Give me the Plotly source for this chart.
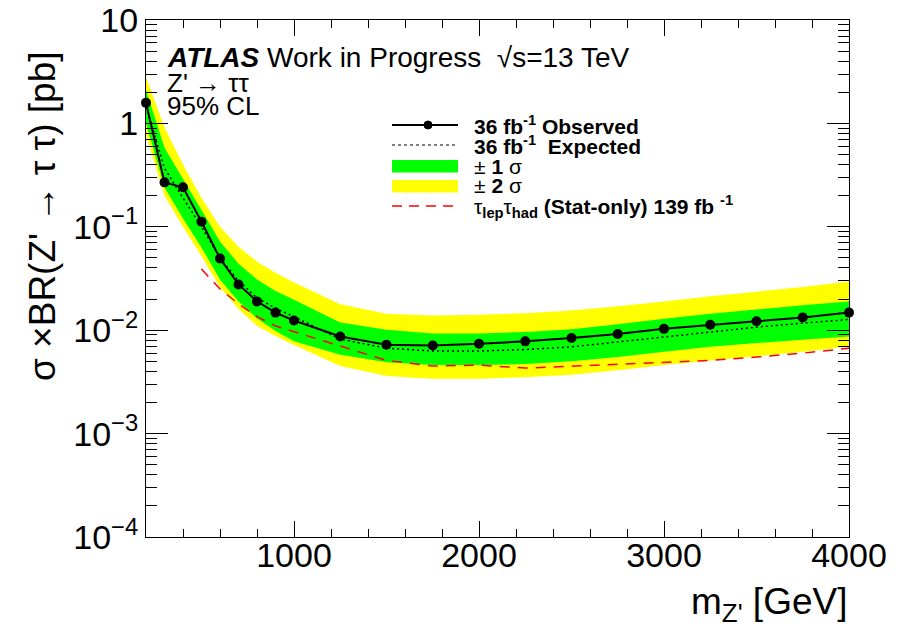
import plotly.graph_objects as go

# ---------------- data ----------------
mass = [200, 300, 400, 500, 600, 700, 800, 900, 1000, 1250, 1500, 1750,
        2000, 2250, 2500, 2750, 3000, 3250, 3500, 3750, 4000]
observed = [1.58, 0.269, 0.241, 0.112, 0.0494, 0.0277, 0.0190, 0.0148, 0.0124,
            0.0087, 0.00725, 0.0071, 0.0074, 0.0078, 0.0084, 0.0092, 0.0103,
            0.0113, 0.0122, 0.0133, 0.0148]
expected = [1.45, 0.37, 0.19, 0.100, 0.050, 0.030, 0.0205, 0.0163, 0.0135,
            0.0082, 0.0067, 0.0063, 0.0063, 0.0065, 0.0069, 0.0077, 0.0087,
            0.0097, 0.0107, 0.0117, 0.0127]
plus2 = [2.8, 0.92, 0.40, 0.19, 0.100, 0.064, 0.046, 0.036, 0.029,
         0.0178, 0.0144, 0.0139, 0.0141, 0.0146, 0.0155, 0.0170, 0.0190,
         0.0213, 0.0236, 0.0262, 0.0296]
plus1 = [2.1, 0.58, 0.29, 0.145, 0.072, 0.044, 0.031, 0.024, 0.0197,
         0.0119, 0.0101, 0.0093, 0.0093, 0.0096, 0.0102, 0.0114, 0.0129,
         0.0144, 0.0159, 0.0174, 0.0189]
minus1 = [1.0, 0.24, 0.12, 0.063, 0.031, 0.019, 0.0130, 0.0098, 0.0078,
          0.0058, 0.0049, 0.0046, 0.0046, 0.0047, 0.0050, 0.0055, 0.0062,
          0.0069, 0.0075, 0.0081, 0.0087]
minus2 = [0.78, 0.20, 0.10, 0.052, 0.026, 0.016, 0.0110, 0.0088, 0.0072,
          0.0045, 0.0036, 0.0034, 0.0034, 0.0035, 0.0037, 0.0041, 0.0046,
          0.0051, 0.0056, 0.0062, 0.0069]
lephad_mass = [500, 600, 700, 800, 900, 1000, 1250, 1500, 1750, 2000, 2250,
               2500, 2750, 3000, 3250, 3500, 3750, 4000]
lephad = [0.039, 0.025, 0.018, 0.0135, 0.011, 0.0097, 0.0070, 0.0051, 0.0045,
          0.0046, 0.0043, 0.0045, 0.0047, 0.0049, 0.0051, 0.0055, 0.0060, 0.0067]

x_ticks = [1000, 2000, 3000, 4000]
x_ticktext = ["1000", "2000", "3000", "4000"]
y_ticks = [1e-4, 1e-3, 1e-2, 1e-1, 1, 10]
y_ticktext = ["10<sup>\u22124</sup>", "10<sup>\u22123</sup>", "10<sup>\u22122</sup>",
              "10<sup>\u22121</sup>", "1", "10"]

FONT = "Liberation Sans, Arial, Helvetica, sans-serif"

fig = go.Figure()

# +-2 sigma band
fig.add_trace(go.Scatter(x=mass + mass[::-1], y=plus2 + minus2[::-1],
                         fill="toself", fillcolor="#FFFF00", mode="none",
                         hoverinfo="skip", showlegend=False))
# +-1 sigma band
fig.add_trace(go.Scatter(x=mass + mass[::-1], y=plus1 + minus1[::-1],
                         fill="toself", fillcolor="#00FF00", mode="none",
                         hoverinfo="skip", showlegend=False))
# lep-had stat only
fig.add_trace(go.Scatter(x=lephad_mass, y=lephad, mode="lines",
                         line=dict(color="#FF0000", width=1.5, dash="10px,8px"),
                         showlegend=False))
# expected
fig.add_trace(go.Scatter(x=mass, y=expected, mode="lines",
                         line=dict(color="black", width=1.5, dash="2px,3px"),
                         showlegend=False))
# observed
fig.add_trace(go.Scatter(x=mass, y=observed, mode="lines+markers",
                         line=dict(color="black", width=2),
                         marker=dict(color="black", size=10),
                         cliponaxis=False, showlegend=False))

# ---------------- layout ----------------
L, R, T, B = 146, 61, 20, 90
W, H = 910, 627
pw, ph = W - L - R, H - T - B


def px(xp):
    return (xp - L) / pw


def py(yp):
    return (H - B - yp) / ph


minor_y = [k * 10.0 ** e for e in range(-4, 1) for k in range(2, 10)]

fig.update_layout(
    width=W, height=H,
    margin=dict(l=L, r=R, t=T, b=B, autoexpand=False),
    paper_bgcolor="white", plot_bgcolor="white",
    font=dict(family=FONT, color="black"),
    xaxis=dict(range=[200, 4000], showgrid=False, zeroline=False,
               automargin=False,
               showline=True, linecolor="black", linewidth=1, mirror="ticks",
               ticks="inside", ticklen=16, tickcolor="black", tickwidth=1,
               tickmode="array", tickvals=x_ticks, ticktext=x_ticktext,
               tickfont=dict(size=34, family=FONT), ticklabelstandoff=-12,
               minor=dict(ticks="inside", ticklen=8, tickcolor="black",
                          dtick=200, tick0=0, showgrid=False)),
    yaxis=dict(type="log", range=[-4, 1], showgrid=False, zeroline=False,
               automargin=False,
               showline=True, linecolor="black", linewidth=1, mirror="ticks",
               ticks="inside", ticklen=22, tickcolor="black", tickwidth=1,
               tickmode="array", tickvals=y_ticks, ticktext=y_ticktext,
               tickfont=dict(size=34, family=FONT),
               minor=dict(ticks="inside", ticklen=11, tickcolor="black",
                          tickmode="array", tickvals=minor_y, showgrid=False)),
)

ann = []
# axis titles
ann.append(dict(x=px(849), y=py(604), xref="paper", yref="paper",
                xanchor="right", yanchor="middle", showarrow=False,
                text="m<sub>Z'</sub> [GeV]", font=dict(size=37, family=FONT)))
ann.append(dict(x=px(42), y=py(216), xref="paper", yref="paper",
                xanchor="center", yanchor="middle", showarrow=False,
                textangle=-90,
                text="\u03c3 \u00d7BR(Z' \u2192 \u03c4 \u03c4) [pb]",
                font=dict(size=37, family=FONT)))
# ATLAS label
ann.append(dict(x=px(165), y=py(57), xref="paper", yref="paper",
                xanchor="left", yanchor="middle", showarrow=False,
                text="<b><i>ATLAS</i></b> Work in Progress  \u221as=13 TeV",
                font=dict(size=28, family=FONT)))
ann.append(dict(x=px(165), y=py(83), xref="paper", yref="paper",
                xanchor="left", yanchor="middle", showarrow=False,
                text="Z' \u2192 \u03c4\u03c4", font=dict(size=26, family=FONT)))
ann.append(dict(x=px(165), y=py(106), xref="paper", yref="paper",
                xanchor="left", yanchor="middle", showarrow=False,
                text="95% CL", font=dict(size=26, family=FONT)))

# legend (drawn manually, ROOT style)
leg_rows = [125, 145, 166, 186, 207]
leg_text = ["<b>36 fb<sup>-1</sup> Observed</b>",
            "<b>36 fb<sup>-1</sup>  Expected</b>",
            "\u00b1 <b>1</b> \u03c3",
            "\u00b1 <b>2</b> \u03c3",
            "\u03c4<sub><b>lep</b></sub>\u03c4<sub><b>had</b></sub> <b>(Stat-only) 139 fb <sup>-1</sup></b>"]
for yy, tt in zip(leg_rows, leg_text):
    ann.append(dict(x=px(472), y=py(yy), xref="paper", yref="paper",
                    xanchor="left", yanchor="middle", showarrow=False,
                    text=tt, font=dict(size=21, family=FONT)))

shapes = []
shapes.append(dict(type="line", xref="paper", yref="paper",
                   x0=px(392), x1=px(458), y0=py(125), y1=py(125),
                   line=dict(color="black", width=2)))
shapes.append(dict(type="circle", xref="paper", yref="paper",
                   x0=px(424), x1=px(432), y0=py(121), y1=py(129),
                   fillcolor="black", line=dict(color="black", width=1)))
shapes.append(dict(type="line", xref="paper", yref="paper",
                   x0=px(392), x1=px(458), y0=py(145), y1=py(145),
                   line=dict(color="black", width=1.2, dash="dot")))
shapes.append(dict(type="rect", xref="paper", yref="paper",
                   x0=px(392), x1=px(458), y0=py(172.5), y1=py(160),
                   fillcolor="#00FF00", line=dict(width=0)))
shapes.append(dict(type="rect", xref="paper", yref="paper",
                   x0=px(392), x1=px(458), y0=py(192.5), y1=py(180),
                   fillcolor="#FFFF00", line=dict(width=0)))
shapes.append(dict(type="line", xref="paper", yref="paper",
                   x0=px(392), x1=px(458), y0=py(206), y1=py(206),
                   line=dict(color="#FF0000", width=1.5, dash="10px,7px")))

fig.update_layout(annotations=ann, shapes=shapes)

fig.write_html("out.html",
               config={"displayModeBar": False},
               post_script="document.body.style.margin='0';"
                           "document.body.style.overflow='hidden';")
